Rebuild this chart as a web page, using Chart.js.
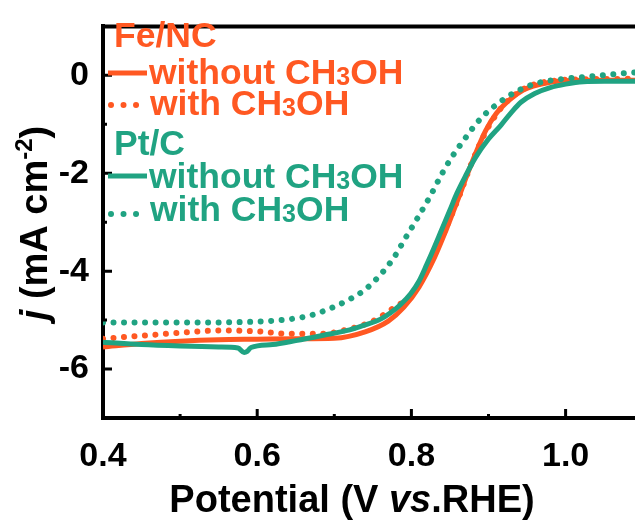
<!DOCTYPE html>
<html>
<head>
<meta charset="utf-8">
<script src="https://cdn.jsdelivr.net/npm/chart.js@4.4.0/dist/chart.umd.min.js"></script>
<style>
  html, body { margin: 0; padding: 0; background: #fff; }
</style>
</head>
<body>
<canvas id="chart" width="635" height="521"></canvas>
<script>
// Fe/NC, without methanol
const feWithoutV = [0.40, 0.45, 0.50, 0.55, 0.60, 0.65, 0.70, 0.74, 0.77, 0.79, 0.81, 0.83, 0.844, 0.86, 0.875, 0.896, 0.91, 0.928, 0.945, 0.958, 0.98, 1.00, 1.04, 1.09];
const feWithoutJ = [-5.55, -5.48, -5.43, -5.40, -5.39, -5.38, -5.37, -5.24, -5.02, -4.74, -4.32, -3.72, -3.20, -2.55, -1.92, -1.14, -0.78, -0.49, -0.30, -0.22, -0.14, -0.11, -0.10, -0.10];

// Fe/NC, with methanol
const feWithV = [0.40, 0.45, 0.50, 0.556, 0.60, 0.643, 0.68, 0.72, 0.75, 0.78, 0.80, 0.82, 0.84, 0.86, 0.88, 0.90, 0.92, 0.94, 0.96, 0.98, 1.00, 1.09];
const feWithJ = [-5.38, -5.32, -5.26, -5.21, -5.23, -5.28, -5.28, -5.18, -5.02, -4.72, -4.50, -3.95, -3.30, -2.55, -1.72, -1.05, -0.60, -0.33, -0.18, -0.12, -0.09, -0.07];

// Pt/C, without methanol
const ptWithoutV = [0.40, 0.45, 0.50, 0.55, 0.575, 0.583, 0.587, 0.592, 0.62, 0.65, 0.686, 0.72, 0.738, 0.76, 0.773, 0.786, 0.799, 0.81, 0.82, 0.83, 0.838, 0.85, 0.859, 0.871, 0.883, 0.90, 0.916, 0.93, 0.942, 0.96, 0.98, 1.00, 1.023, 1.05, 1.09];
const ptWithoutJ = [-5.45, -5.50, -5.53, -5.55, -5.57, -5.66, -5.64, -5.56, -5.50, -5.42, -5.31, -5.20, -5.11, -4.98, -4.85, -4.68, -4.46, -4.20, -3.86, -3.50, -3.20, -2.75, -2.41, -2.03, -1.68, -1.30, -1.02, -0.75, -0.55, -0.37, -0.25, -0.18, -0.13, -0.12, -0.12];

// Pt/C, with methanol
const ptWithV = [0.40, 0.50, 0.60, 0.643, 0.67, 0.695, 0.717, 0.738, 0.76, 0.777, 0.792, 0.807, 0.825, 0.84, 0.852, 0.864, 0.89, 0.911, 0.935, 0.963, 0.993, 1.028, 1.06, 1.09];
const ptWithJ = [-5.05, -5.05, -5.03, -4.98, -4.90, -4.76, -4.60, -4.40, -4.07, -3.73, -3.33, -2.94, -2.45, -2.00, -1.68, -1.41, -0.88, -0.59, -0.34, -0.16, -0.08, -0.03, 0.02, 0.06];

const xTicks = [0.4, 0.6, 0.8, 1.0];
const xMinorTicks = [0.5, 0.7, 0.9];
const yTicks = [0, -2, -4, -6];
const yMinorTicks = [-1, -3, -5];

const ORANGE = 'rgb(255, 88, 34)';
const GREEN = 'rgb(32, 163, 130)';
const FONT = '"Liberation Sans", Arial, sans-serif';

function pts(xs, ys) {
  return xs.map((x, i) => ({ x: x, y: ys[i] }));
}

function solid(label, color, xs, ys, order) {
  return {
    label: label, data: pts(xs, ys), borderColor: color, borderWidth: 5,
    pointRadius: 0, cubicInterpolationMode: 'monotone', order: order
  };
}

function dotted(label, color, xs, ys, order) {
  return {
    label: label, data: pts(xs, ys), borderColor: color, borderWidth: 6,
    borderDash: [0.01, 10.5], borderCapStyle: 'round',
    pointRadius: 0, cubicInterpolationMode: 'monotone', order: order
  };
}

// text run helper: parts = [{t, italic, size, dy}]
function drawRuns(ctx, parts, x, y, size, color) {
  let cx = x;
  for (const p of parts) {
    const s = p.size || size;
    ctx.font = (p.italic ? 'italic ' : '') + 'bold ' + s + 'px ' + FONT;
    ctx.fillStyle = color;
    ctx.fillText(p.t, cx, y + (p.dy || 0));
    cx += ctx.measureText(p.t).width;
  }
  return cx - x;
}

function runsWidth(ctx, parts, size) {
  let w = 0;
  for (const p of parts) {
    const s = p.size || size;
    ctx.font = (p.italic ? 'italic ' : '') + 'bold ' + s + 'px ' + FONT;
    w += ctx.measureText(p.t).width;
  }
  return w;
}

const decor = {
  id: 'decor',
  afterDraw(chart) {
    const ctx = chart.ctx;
    const area = chart.chartArea;
    const xs = chart.scales.x, ys = chart.scales.y;
    ctx.save();
    ctx.strokeStyle = '#000';
    ctx.lineCap = 'butt';

    // top frame line
    ctx.lineWidth = 4;
    ctx.beginPath();
    ctx.moveTo(area.left - 2, area.top);
    ctx.lineTo(area.right, area.top);
    ctx.stroke();

    // inward ticks
    ctx.lineWidth = 3;
    ctx.beginPath();
    for (const v of xTicks) {
      const px = xs.getPixelForValue(v);
      ctx.moveTo(px, area.bottom); ctx.lineTo(px, area.bottom - 9);
    }
    for (const v of xMinorTicks) {
      const px = xs.getPixelForValue(v);
      ctx.moveTo(px, area.bottom); ctx.lineTo(px, area.bottom - 4);
    }
    for (const v of yTicks) {
      const py = ys.getPixelForValue(v);
      ctx.moveTo(area.left, py); ctx.lineTo(area.left + 9, py);
    }
    for (const v of yMinorTicks) {
      const py = ys.getPixelForValue(v);
      ctx.moveTo(area.left, py); ctx.lineTo(area.left + 4, py);
    }
    ctx.stroke();

    ctx.textBaseline = 'alphabetic';
    ctx.textAlign = 'left';

    // x title
    const xt = [{ t: 'Potential (V ' }, { t: 'vs', italic: true }, { t: '.RHE)' }];
    const xw = runsWidth(ctx, xt, 38);
    drawRuns(ctx, xt, 352 - xw / 2, 512, 38, '#000');

    // y title
    const yt = [{ t: 'j', italic: true }, { t: ' (mA cm' }, { t: '-2', size: 24, dy: -15 }, { t: ')' }];
    const yw = runsWidth(ctx, yt, 38);
    ctx.save();
    ctx.translate(47, 223);
    ctx.rotate(-Math.PI / 2);
    drawRuns(ctx, yt, -yw / 2, 0, 38, '#000');
    ctx.restore();

    // legend
    const rows = [
      { head: 'Fe/NC', color: ORANGE, headY: 47, solidY: 73, solidBase: 84, dotY: 105, dotBase: 115 },
      { head: 'Pt/C', color: GREEN, headY: 155, solidY: 176, solidBase: 188, dotY: 214, dotBase: 221 }
    ];
    const sub = (pre) => [{ t: pre + 'CH' }, { t: '3', size: 25, dy: 1 }, { t: 'OH' }];
    for (const r of rows) {
      ctx.font = 'bold 35.5px ' + FONT;
      ctx.fillStyle = r.color;
      ctx.fillText(r.head, 114, r.headY);

      ctx.strokeStyle = r.color;
      ctx.lineWidth = 5;
      ctx.setLineDash([]);
      ctx.beginPath();
      ctx.moveTo(108, r.solidY); ctx.lineTo(147, r.solidY);
      ctx.stroke();
      drawRuns(ctx, sub('without '), 149, r.solidBase, 35.5, r.color);

      ctx.lineWidth = 6;
      ctx.lineCap = 'round';
      ctx.setLineDash([0.01, 12.5]);
      ctx.beginPath();
      ctx.moveTo(111, r.dotY); ctx.lineTo(140, r.dotY);
      ctx.stroke();
      ctx.setLineDash([]);
      ctx.lineCap = 'butt';
      drawRuns(ctx, sub('with '), 150, r.dotBase, 35.5, r.color);
    }
    ctx.restore();
  }
};

const tickFont = { family: FONT, size: 34, weight: 'bold' };

new Chart(document.getElementById('chart').getContext('2d'), {
  type: 'line',
  data: {
    datasets: [
      dotted('Pt/C with CH3OH', GREEN, ptWithV, ptWithJ, 0),
      solid('Pt/C without CH3OH', GREEN, ptWithoutV, ptWithoutJ, 1),
      dotted('Fe/NC with CH3OH', ORANGE, feWithV, feWithJ, 2),
      solid('Fe/NC without CH3OH', ORANGE, feWithoutV, feWithoutJ, 3)
    ]
  },
  options: {
    responsive: false,
    animation: false,
    layout: { padding: { top: 15, right: 0, left: 0, bottom: 0 } },
    plugins: { legend: { display: false }, tooltip: { enabled: false } },
    scales: {
      x: {
        type: 'linear', min: 0.4, max: 1.09,
        grid: { display: false },
        border: { display: true, width: 4, color: '#000' },
        afterBuildTicks: s => { s.ticks = xTicks.map(v => ({ value: v })); },
        afterFit: s => { s.height = 103; },
        ticks: { font: tickFont, color: '#000', padding: 10, maxRotation: 0, autoSkip: false,
                 callback: v => Number(v).toFixed(1) }
      },
      y: {
        type: 'linear', min: -7, max: 1,
        grid: { display: false },
        border: { display: true, width: 4, color: '#000' },
        afterBuildTicks: s => { s.ticks = yTicks.map(v => ({ value: v })); },
        afterFit: s => { s.width = 103; },
        ticks: { font: tickFont, color: '#000', padding: 6, autoSkip: false,
                 callback: v => String(v) }
      }
    }
  },
  plugins: [decor]
});
</script>
</body>
</html>
